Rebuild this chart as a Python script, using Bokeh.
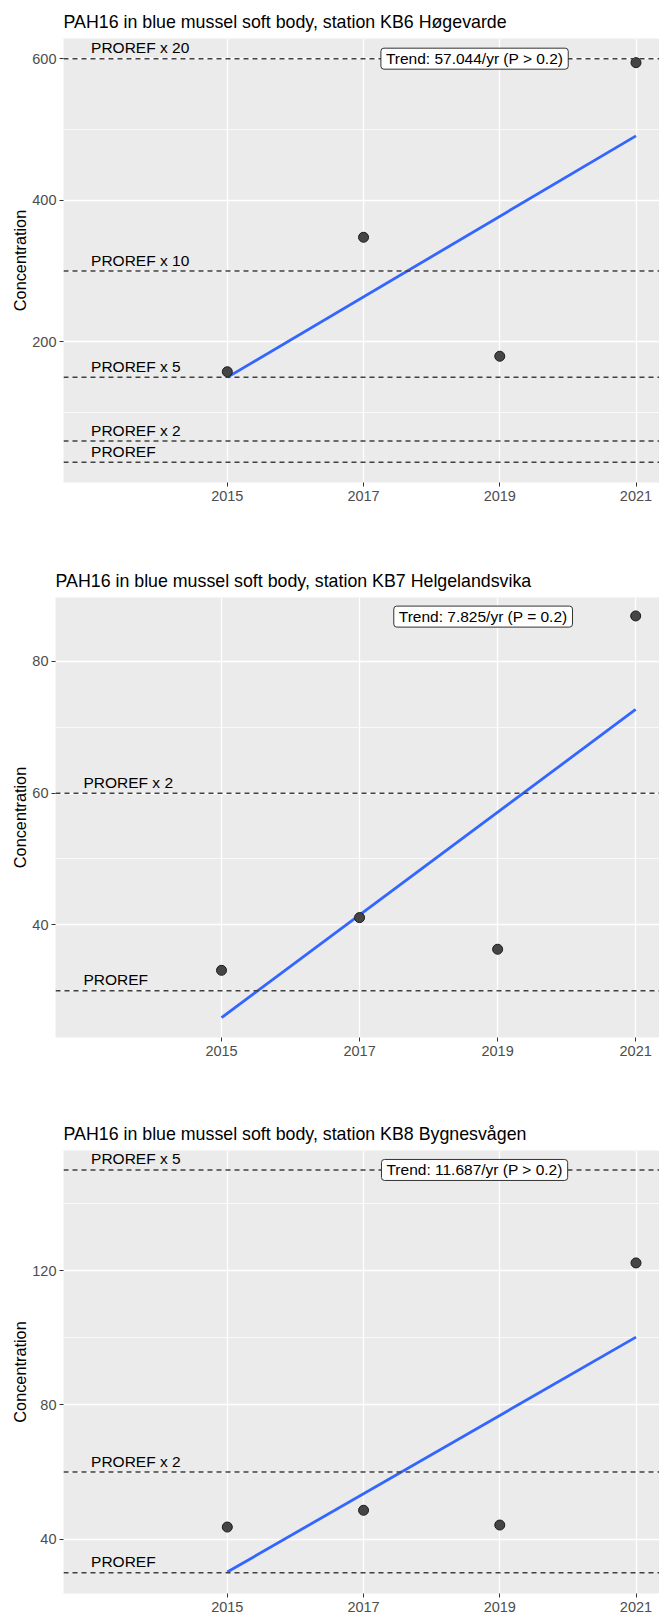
from bokeh.plotting import figure
from bokeh.models import FixedTicker, Label, Range1d, Span, ColumnDataSource
from bokeh.embed import file_html
from bokeh.resources import INLINE
from bokeh.core.properties import value

# ---------------- data ----------------
years = [2015, 2017, 2019, 2021]
x_ticks = [2015, 2017, 2019, 2021]
trend_years = [2015, 2021]

titles = [
    "PAH16 in blue mussel soft body, station KB6 Høgevarde",
    "PAH16 in blue mussel soft body, station KB7 Helgelandsvika",
    "PAH16 in blue mussel soft body, station KB8 Bygnesvågen",
]

kb6_conc = [157.9, 347.8, 179.8, 594.4]
kb7_conc = [33.1, 41.1, 36.3, 86.9]
kb8_conc = [43.6, 48.6, 44.2, 122.3]

kb6_trend = [150.0, 491.0]
kb7_trend = [25.9, 72.7]
kb8_trend = [30.2, 100.2]

trend_texts = [
    "Trend: 57.044/yr (P > 0.2)",
    "Trend: 7.825/yr (P = 0.2)",
    "Trend: 11.687/yr (P > 0.2)",
]
trend_label_x = [2018.63, 2018.79, 2018.63]
trend_label_y = [600, 86.8, 150]

proref_values = [30, 60, 150, 300, 600]
proref_labels = ["PROREF", "PROREF x 2", "PROREF x 5", "PROREF x 10", "PROREF x 20"]
proref_counts = [5, 2, 3]

y_major = [[200, 400, 600], [40, 60, 80], [40, 80, 120]]
y_minor = [[100, 300, 500], [30, 50, 70], [60, 100, 140]]
y_limits = [(1.5, 628.5), (22.9, 89.7), (23.8, 155.8)]
x_limits = (2012.595, 2021.345)

# ---------------- layout ----------------
heights = [540, 555, 523]
tops = [38, 57, 55]
bottoms = [58, 58, 25]
lefts = [63, 55, 63]

FONT = "Liberation Sans"
concs = [kb6_conc, kb7_conc, kb8_conc]
trends = [kb6_trend, kb7_trend, kb8_trend]

figs = []
for i in range(3):
    p = figure(width=659, height=heights[i],
               x_range=Range1d(*x_limits), y_range=Range1d(*y_limits[i]),
               output_backend="svg", toolbar_location=None,
               min_border_top=tops[i], min_border_bottom=bottoms[i],
               min_border_left=lefts[i], min_border_right=0)
    p.background_fill_color = "#EBEBEB"
    p.border_fill_color = "white"
    p.outline_line_color = None

    p.title.text = titles[i]
    p.title.text_font = FONT
    p.title.text_font_size = "17.8px"
    p.title.text_font_style = "normal"
    p.title.text_color = "black"
    p.title.align = "left"
    p.title.standoff = 13

    p.xaxis.ticker = FixedTicker(ticks=x_ticks)
    p.yaxis.ticker = FixedTicker(ticks=y_major[i], minor_ticks=y_minor[i])
    for ax in (p.xaxis, p.yaxis):
        ax.axis_line_color = None
        ax.major_tick_line_color = "#333333"
        ax.major_tick_out = 4
        ax.major_tick_in = 0
        ax.minor_tick_line_color = None
        ax.major_label_text_font = FONT
        ax.major_label_text_font_size = "14.5px"
        ax.major_label_text_color = "#4D4D4D"
    p.xaxis.major_label_standoff = 4
    p.yaxis.major_label_standoff = 3
    p.yaxis.axis_label = "Concentration"
    p.yaxis.axis_label_text_font = FONT
    p.yaxis.axis_label_text_font_size = "16.3px"
    p.yaxis.axis_label_text_font_style = "normal"
    p.yaxis.axis_label_text_color = "black"
    p.yaxis.axis_label_standoff = 0

    p.xgrid.grid_line_color = "white"
    p.xgrid.grid_line_width = 1.3
    p.ygrid.grid_line_color = "white"
    p.ygrid.grid_line_width = 1.3
    p.ygrid.minor_grid_line_color = "white"
    p.ygrid.minor_grid_line_width = 0.7

    n = proref_counts[i]
    for v in proref_values[:n]:
        p.add_layout(Span(location=v, dimension="width", line_color="#404040",
                          line_width=1.5, line_dash="5 4"))
    lab_src = ColumnDataSource(dict(x=[2013] * n, y=proref_values[:n],
                                    t=proref_labels[:n]))
    p.text(x="x", y="y", text="t", source=lab_src, text_font=value(FONT),
           text_font_size="15.5px", text_color="black", text_align="left",
           text_baseline="middle", y_offset=-11)

    p.line(trend_years, trends[i], line_color="#3366FF", line_width=2.8)
    p.scatter(years, concs[i], size=10, fill_color="#454545",
              line_color="#1A1A1A", line_width=1)

    p.add_layout(Label(x=trend_label_x[i], y=trend_label_y[i], text=trend_texts[i],
                       text_font=FONT, text_font_size="15.5px", text_color="black",
                       text_align="center", text_baseline="middle",
                       background_fill_color="white", border_line_color="#333333",
                       border_line_width=1, padding=dict(x=5, y=2), border_radius=3))
    figs.append(p)

open("out.html", "w").write(file_html(figs, INLINE))
